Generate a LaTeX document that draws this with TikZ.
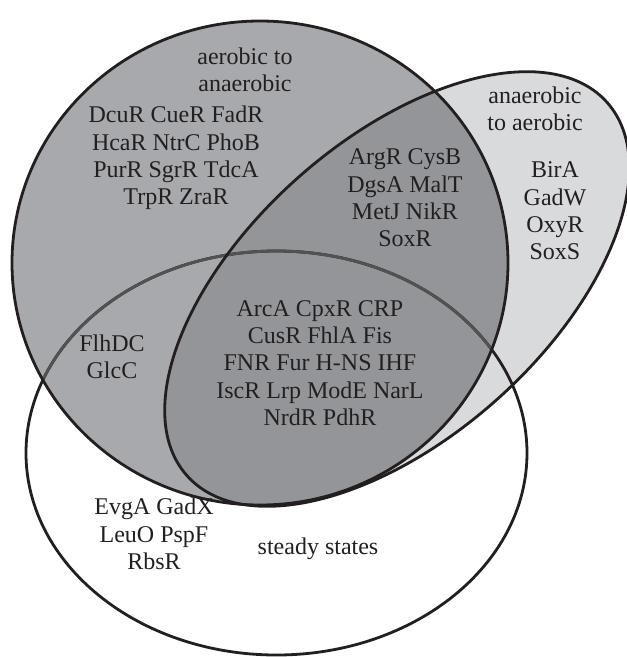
\documentclass[tikz,border=0pt]{standalone}
\usepackage{fontspec}
\setmainfont{Liberation Serif}
\begin{document}
\begin{tikzpicture}[x=1pt,y=-1pt,
  outline/.style={draw=inkc, line width=2.8pt},
  label/.style={text=inkc, font=\fontsize{24}{27.4}\selectfont, align=center, inner sep=0pt},
]
\definecolor{inkc}{HTML}{231F20}
\definecolor{midgrey}{HTML}{A7A9AC}
\definecolor{darkgrey}{HTML}{939598}
\definecolor{lightgrey}{HTML}{D9DADC}
\useasboundingbox (0,0) rectangle (627,657);
\fill[white] (0,0) rectangle (627,657);
% geometry
\def\bigE{(260,263) ellipse [x radius=248, y radius=242]}
\def\botE{(276.5,453) ellipse [x radius=250.5, y radius=202]}
% fills
\fill[lightgrey, rotate around={41.6:(397,289)}] (397,289) ellipse [x radius=281, y radius=149];
\fill[midgrey] \bigE;
\begin{scope}
  \clip \bigE;
  \fill[darkgrey, rotate around={41.6:(397,289)}] (397,289) ellipse [x radius=281, y radius=149];
\end{scope}
% steady-state ellipse outline
\draw[outline] \botE;
\begin{scope}
  \clip \bigE;
  \draw[draw=black!68, line width=2.8pt] \botE;
\end{scope}
% other outlines
\draw[outline] \bigE;
\draw[outline, rotate around={41.6:(397,289)}] (397,289) ellipse [x radius=281, y radius=149];
% labels
\node[label] (a2an) at (245,70) {aerobic to\\anaerobic};
\node[label] (grpA) at (176,158) {DcuR CueR FadR\\HcaR NtrC PhoB\\PurR SgrR TdcA\\TrpR ZraR};
\node[label] (grpAB) at (405,198) {ArgR CysB\\DgsA MalT\\MetJ NikR\\SoxR};
\node[label] (an2a) at (535,109) {anaerobic\\to aerobic};
\node[label] (grpB) at (555,211) {BirA\\GadW\\OxyR\\SoxS};
\node[label] (grpABC) at (320,363) {ArcA CpxR CRP\\CusR FhlA Fis\\FNR Fur H-NS IHF\\IscR Lrp ModE NarL\\NrdR PdhR};
\node[label] (grpAC) at (112,357) {FlhDC\\GlcC};
\node[label] (grpC) at (154,534) {EvgA GadX\\LeuO PspF\\RbsR};
\node[label] (ss) at (318,549) {steady states};
\end{tikzpicture}
\end{document}
